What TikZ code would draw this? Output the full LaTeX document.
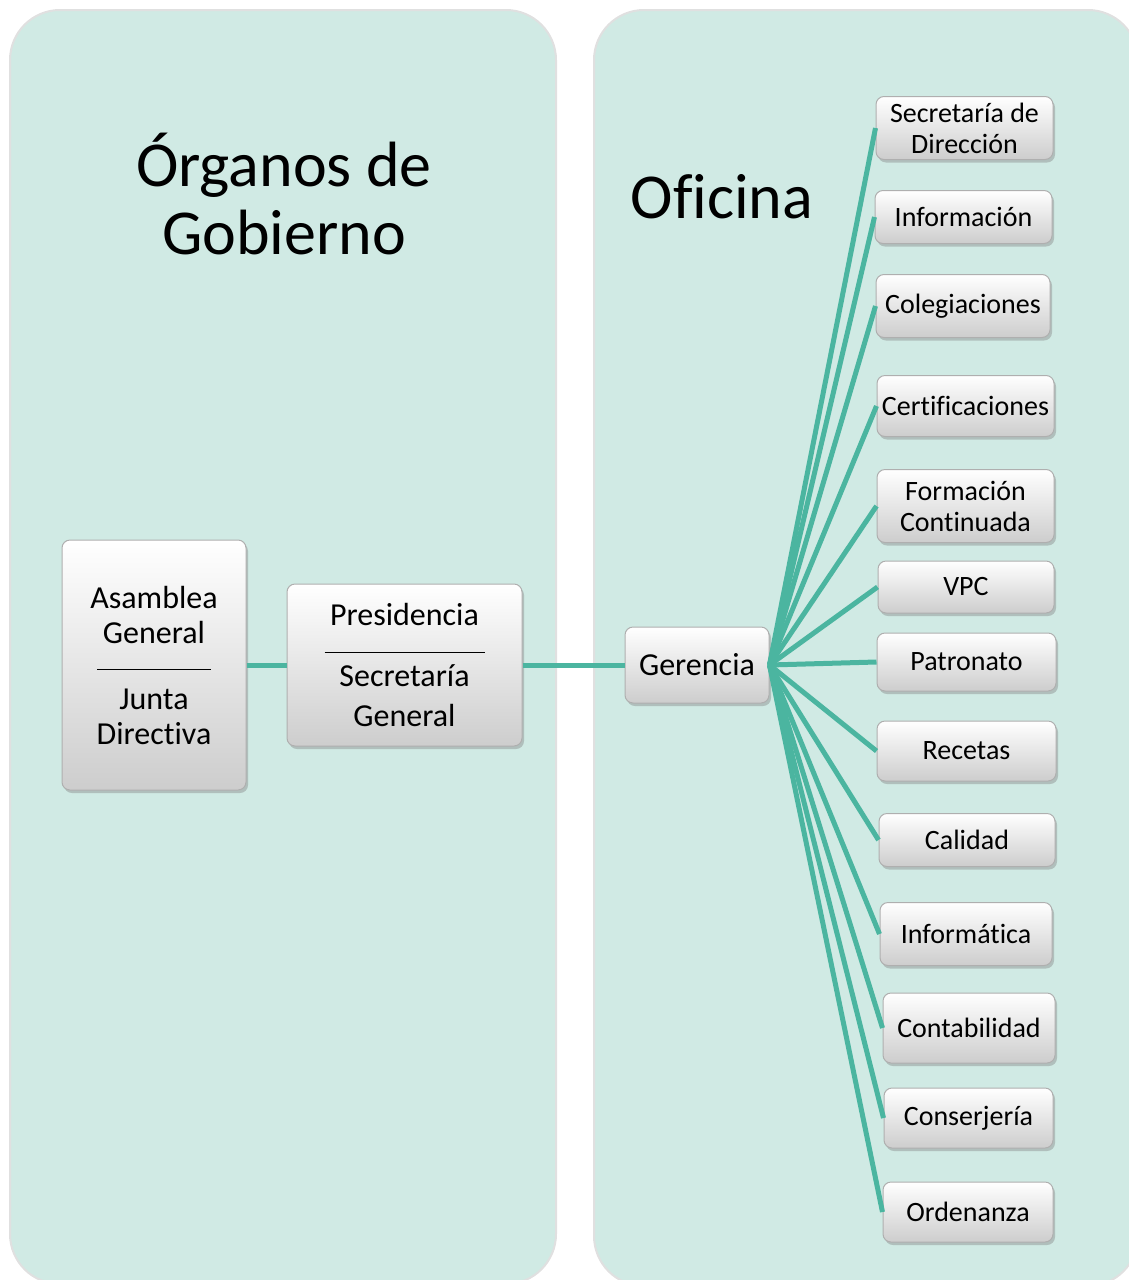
\documentclass[tikz,border=0pt]{standalone}
\usepackage{fontspec}
\setmainfont{Carlito}[RawFeature={-liga;-clig}]
\usetikzlibrary{positioning, shadows}
\definecolor{panelcol}{RGB}{208, 234, 228}
\definecolor{linkcol}{RGB}{75, 181, 160}
\definecolor{boxbot}{RGB}{205, 205, 205}
\definecolor{edgecol}{RGB}{175, 175, 175}
\tikzset{
  panel/.style = {fill=panelcol, draw=black!12, line width=1pt,
                  rounded corners=25pt},
  box/.style   = {rounded corners=4pt, top color=white, bottom color=boxbot,
                  draw=edgecol, line width=0.5pt, align=center, inner sep=2pt,
                  font=\fontsize{16}{17.5}\selectfont,
                  drop shadow={shadow xshift=1pt, shadow yshift=-1.5pt,
                               opacity=0.4}},
  unit/.style  = {box, font=\fontsize{14}{15.5}\selectfont},
  title/.style = {font=\fontsize{32}{34}\selectfont, align=center},
  link/.style  = {draw=linkcol, line width=2.5pt},
}

\begin{document}
\begin{tikzpicture}[x=0.5pt, y=-0.5pt]
  \clip (0,0) rectangle (1129,1280);
  \useasboundingbox (0,0) rectangle (1129,1280);

  %% ---------------- panels ----------------
  \path[panel] (10,10) rectangle (556,1284);
  \path[panel] (594,10) rectangle (1138,1286);

  \node[title] (gobierno) at (284,194) {Órganos de\\Gobierno};
  \node[title] (oficina) at (722,197) {Oficina};

  %% ---------------- governing bodies ----------------
  \node[box, minimum width=92pt, minimum height=125pt] (asamblea) at (154,665)
       {Asamblea\\General\\[-4pt]\rule{57pt}{0.4pt}\\[2pt]Junta\\Directiva};
  \node[box, minimum width=117.5pt, minimum height=81pt, right=20pt of asamblea]
       (presid) {Presidencia\\[-4pt]\rule{80pt}{0.4pt}\\[-0.5pt]Secretaría\\[2.5pt]General};
  \node[box, minimum width=72pt, minimum height=38pt, right=51pt of presid]
       (gerencia) {Gerencia};

  %% ---------------- office units ----------------
  \node[unit, minimum width=88.5pt, minimum height=31.5pt] (secdir) at (964.5,128)
       {Secretaría de\\Dirección};
  \node[unit, minimum width=88.5pt, minimum height=26.5pt] (info) at (963.5,217)
       {Información};
  \node[unit, minimum width=87pt, minimum height=31.5pt] (coleg) at (963,306)
       {Colegiaciones};
  \node[unit, minimum width=88.5pt, minimum height=30.5pt] (certif) at (965.5,406)
       {Certificaciones};
  \node[unit, minimum width=88.5pt, minimum height=36.5pt] (formac) at (965.5,506)
       {Formación\\Continuada};
  \node[unit, minimum width=88pt, minimum height=26pt] (vpc) at (966,587)
       {VPC};
  \node[unit, minimum width=89.5pt, minimum height=29pt] (patron) at (966.5,662)
       {Patronato};
  \node[unit, minimum width=89.5pt, minimum height=30pt] (recetas) at (966.5,751)
       {Recetas};
  \node[unit, minimum width=88pt, minimum height=26.5pt] (calidad) at (967,840)
       {Calidad};
  \node[unit, minimum width=86pt, minimum height=31.5pt] (informat) at (966,934)
       {Informática};
  \node[unit, minimum width=86pt, minimum height=35pt] (contab) at (969,1028)
       {Contabilidad};
  \node[unit, minimum width=84.5pt, minimum height=30pt] (conserj) at (968.5,1118)
       {Conserjería};
  \node[unit, minimum width=85pt, minimum height=30pt] (orden) at (968,1212)
       {Ordenanza};

  %% ---------------- links ----------------
  \draw[link] (asamblea) -- (presid);
  \draw[link] (presid) -- (gerencia);
  \draw[link] (gerencia.east) -- (secdir.west);
  \draw[link] (gerencia.east) -- (info.west);
  \draw[link] (gerencia.east) -- (coleg.west);
  \draw[link] (gerencia.east) -- (certif.west);
  \draw[link] (gerencia.east) -- (formac.west);
  \draw[link] (gerencia.east) -- (vpc.west);
  \draw[link] (gerencia.east) -- (patron.west);
  \draw[link] (gerencia.east) -- (recetas.west);
  \draw[link] (gerencia.east) -- (calidad.west);
  \draw[link] (gerencia.east) -- (informat.west);
  \draw[link] (gerencia.east) -- (contab.west);
  \draw[link] (gerencia.east) -- (conserj.west);
  \draw[link] (gerencia.east) -- (orden.west);

\end{tikzpicture}
\end{document}
